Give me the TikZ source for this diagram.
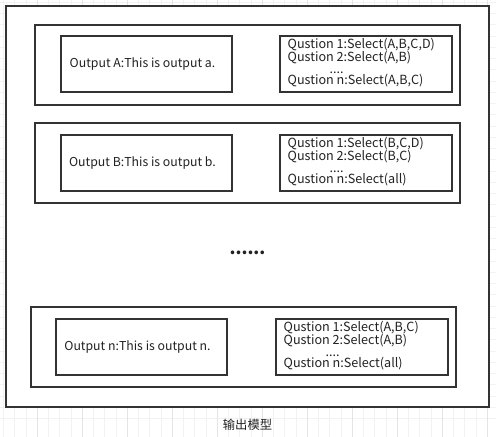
\documentclass[tikz,border=0pt]{standalone}
\usepackage{fontspec}
\setmainfont{Noto Sans CJK SC}
\definecolor{linec}{HTML}{333333}
\definecolor{textc}{HTML}{222222}
\definecolor{gridminor}{HTML}{F2F2F2}
\definecolor{gridmajor}{HTML}{E4E4E4}
\definecolor{shadowc}{HTML}{ABABAB}
\begin{document}
\begin{tikzpicture}[x=1pt,y=-1pt,
  box/.style={draw=linec, fill=white, line width=1.1pt, inner sep=0pt, outer sep=0pt},
  shadowbox/.style={fill=shadowc},
  txt/.style={text=textc, font=\fontsize{12.3}{11.6}\selectfont, inner sep=0pt},
  qtxt/.style={text=textc, font=\fontsize{12.6}{11.6}\selectfont, inner sep=0pt, align=left, anchor=north west}]
\useasboundingbox (0,0) rectangle (496,437);
\fill[white] (0,0) rectangle (496,437);
% background grid
\foreach \i in {0,...,44} {
  \draw[gridminor, line width=0.6pt] ({3.5+11.25*\i},0) -- ({3.5+11.25*\i},437);
}
\foreach \j in {0,...,39} {
  \draw[gridminor, line width=0.6pt] (0,{418.3-11.25*\j}) -- (496,{418.3-11.25*\j});
}
\foreach \i in {0,...,10} {
  \draw[gridmajor, line width=0.6pt] ({37.3+45*\i},0) -- ({37.3+45*\i},437);
}
% outer container
\fill[shadowbox] (7.3,7.3) rectangle (490.3,408.3);
\draw[box] (6,6) rectangle (489,407);
\coordinate (outer) at (247.5,206.5);

% group 1
\fill[shadowbox] (36.3,26.3) rectangle (461.3,106.3);
\draw[box] (35,25) rectangle (460,105);
\draw[box] (61,36) rectangle (232,92);
\node[txt] (oa) at (142.5,64) {Output A:This is output a.};
\draw[box] (280,36) rectangle (452,92);
\node[qtxt] (qa) at (287.5,37.5) {Qustion 1:Select(A,B,C,D)\\Qustion 2:Select(A,B)\\\hspace*{42pt}....\\Qustion n:Select(A,B,C)};

% group 2
\fill[shadowbox] (36.3,124.3) rectangle (461.3,204.3);
\draw[box] (35,123) rectangle (460,203);
\draw[box] (61,135) rectangle (232,191);
\node[txt] (ob) at (142.5,163) {Output B:This is output b.};
\draw[box] (280,135) rectangle (452,191);
\node[qtxt] (qb) at (287.5,136.5) {Qustion 1:Select(B,C,D)\\Qustion 2:Select(B,C)\\\hspace*{42pt}....\\Qustion n:Select(all)};

% ellipsis
\node[text=textc, font=\fontsize{17}{17}\selectfont\bfseries, inner sep=0pt] (dots) at (247.5,253) {......};

% group 3
\fill[shadowbox] (32.3,308.3) rectangle (457.3,388.3);
\draw[box] (31,307) rectangle (456,387);
\draw[box] (56,319) rectangle (227,375);
\node[txt] (on) at (137.5,347) {Output n:This is output n.};
\draw[box] (276,319) rectangle (448,375);
\node[qtxt] (qn) at (283.5,320.5) {Qustion 1:Select(A,B,C)\\Qustion 2:Select(A,B)\\\hspace*{42pt}....\\Qustion n:Select(all)};

% caption
\node[txt] (cap) at (247.5,425) {输出模型};
\end{tikzpicture}
\end{document}
